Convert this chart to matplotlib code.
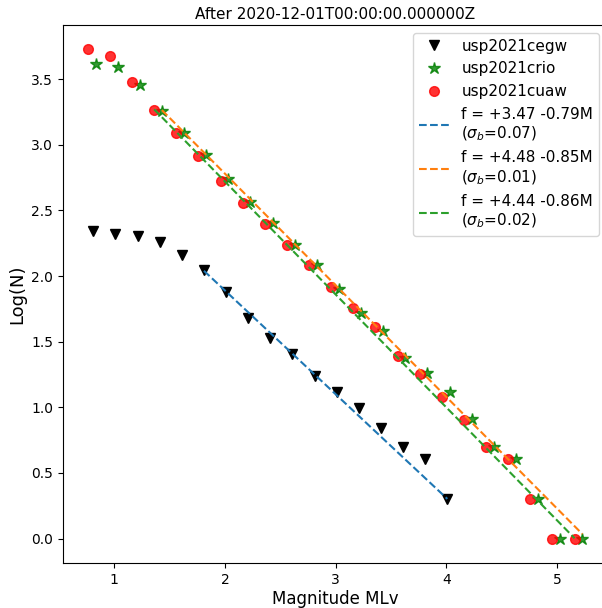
import matplotlib
matplotlib.use("Agg")
import matplotlib.pyplot as plt
import numpy as np

# magnitude bins per station
mag_cegw = [0.81, 1.01, 1.21, 1.41, 1.61, 1.81, 2.01, 2.21, 2.41, 2.61, 2.81,
            3.01, 3.21, 3.41, 3.61, 3.81, 4.01]
logn_cegw = [2.342, 2.319, 2.302, 2.256, 2.164, 2.044, 1.882, 1.678, 1.525, 1.403,
             1.240, 1.116, 0.998, 0.845, 0.695, 0.605, 0.304]

mag_crio = [0.83, 1.03, 1.23, 1.43, 1.63, 1.83, 2.03, 2.23, 2.43, 2.63, 2.83, 3.03,
            3.23, 3.43, 3.63, 3.83, 4.03, 4.23, 4.43, 4.63, 4.83, 5.03, 5.23]
logn_crio = [3.612, 3.595, 3.459, 3.260, 3.092, 2.919, 2.740, 2.562, 2.404, 2.238,
             2.085, 1.900, 1.716, 1.580, 1.378, 1.261, 1.118, 0.909, 0.695, 0.605,
             0.299, 0.0, 0.0]

mag_cuaw = [0.76, 0.96, 1.16, 1.36, 1.56, 1.76, 1.96, 2.16, 2.36, 2.56, 2.76, 2.96,
            3.16, 3.36, 3.56, 3.76, 3.96, 4.16, 4.36, 4.56, 4.76, 4.96, 5.16]
logn_cuaw = [3.727, 3.680, 3.475, 3.268, 3.090, 2.914, 2.725, 2.554, 2.394, 2.240,
             2.082, 1.916, 1.753, 1.613, 1.391, 1.256, 1.082, 0.904, 0.695, 0.605,
             0.299, 0.0, 0.0]

# Gutenberg-Richter fits: intercept, slope, sigma_b, first bin used
fit_a = [3.47, 4.48, 4.44]
fit_b = [0.79, 0.85, 0.86]
fit_sigma = [0.07, 0.01, 0.02]
fit_start = [5, 3, 3]

fig = plt.figure(figsize=(6.02, 6.08), dpi=100)
ax = fig.add_axes([0.1047, 0.0740, 0.9037, 0.8850])

ax.plot(mag_cegw, logn_cegw, 'v', color='k', ms=7, ls='none', label='usp2021cegw')
ax.plot(mag_crio, logn_crio, '*', color='green', alpha=0.8, ms=9, ls='none',
        label='usp2021crio')
ax.plot(mag_cuaw, logn_cuaw, 'o', color='red', alpha=0.8, ms=7, ls='none',
        label='usp2021cuaw')

stations = [mag_cegw, mag_crio, mag_cuaw]
for i, mags in enumerate(stations):
    m = np.array(mags[fit_start[i]:])
    label = 'f = +%.2f -%.2fM\n($\\sigma_b$=%.2f)' % (fit_a[i], fit_b[i], fit_sigma[i])
    ax.plot(m, fit_a[i] - fit_b[i] * m, '--', color='C%d' % i, label=label)

ax.set_title('After 2020-12-01T00:00:00.000000Z', fontsize=11, pad=4)
ax.set_xlabel('Magnitude MLv', fontsize=12, labelpad=2)
ax.set_ylabel('Log(N)', fontsize=13)
ax.tick_params(labelsize=10)
ax.legend(loc='upper right', fontsize=11)

fig.savefig('out.png', dpi=100)
